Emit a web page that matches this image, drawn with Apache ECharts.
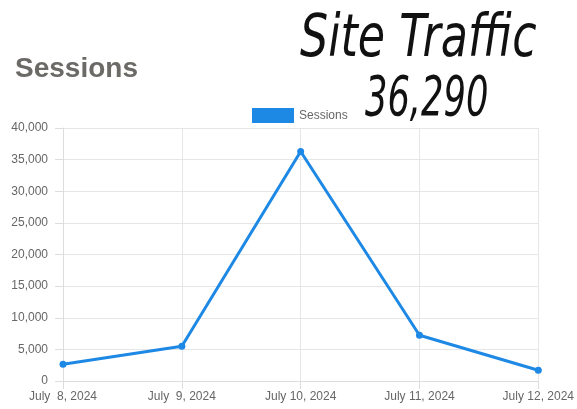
<!DOCTYPE html>
<html><head><meta charset="utf-8">
<script src="https://cdn.jsdelivr.net/npm/echarts@6/dist/echarts.min.js"></script>
<style>html,body{margin:0;padding:0;background:#fff}#c{width:577px;height:409px}</style>
</head><body><div id="c"></div>
<script>
const categories = ['July  8, 2024','July  9, 2024','July 10, 2024','July 11, 2024','July 12, 2024'];
const sessions = [2650, 5500, 36290, 7240, 1700];
const yTicks = [0, 5000, 10000, 15000, 20000, 25000, 30000, 35000, 40000];
const titleText = 'Sessions';
const headline = 'Site Traffic';
const headlineValue = '36,290';

const chart = echarts.init(document.getElementById('c'));
chart.setOption({
  animation: false,
  backgroundColor: '#fff',
  grid: {left: 63, right: 34, top: 128, bottom: 28, containLabel: false},
  title: {
    text: titleText, left: 10, top: 50,
    textStyle: {fontFamily: 'Liberation Sans, Arial', fontSize: 28, fontWeight: 'bold', color: '#6b6a66'}
  },
  legend: {
    data: ['Sessions'], left: 247, top: 103, itemWidth: 42, itemHeight: 15, itemGap: 5,
    icon: 'rect',
    textStyle: {fontFamily: 'Liberation Sans, Arial', fontSize: 12, color: '#666'}
  },
  graphic: [
    {type: 'text', x: 300, y: 12, scaleX: 0.85,
      style: {text: headline, x: 0, y: 0, verticalAlign: 'top', fontFamily: 'DejaVu Sans Condensed, DejaVu Sans', fontStyle: 'italic', fontSize: 58, fill: '#111'}},
    {type: 'text', x: 365, y: 72, scaleX: 0.7,
      style: {text: headlineValue, x: 0, y: 0, verticalAlign: 'top', fontFamily: 'DejaVu Sans Condensed, DejaVu Sans', fontStyle: 'italic', fontSize: 56, fill: '#111'}}
  ],
  xAxis: {
    type: 'category', data: categories, boundaryGap: false,
    axisLine: {show: true, lineStyle: {color: '#ddd'}},
    axisTick: {show: true, length: 8, alignWithLabel: true, lineStyle: {color: '#ddd'}},
    axisLabel: {color: '#666', fontFamily: 'Liberation Sans, Arial', fontSize: 12, margin: 10, interval: 0},
    splitLine: {show: true, lineStyle: {color: '#e6e6e6'}}
  },
  yAxis: {
    type: 'value', min: 0, max: 40000, interval: 5000,
    axisLine: {show: true, lineStyle: {color: '#ddd'}},
    axisTick: {show: true, length: 8, lineStyle: {color: '#ddd'}},
    axisLabel: {color: '#666', fontFamily: 'Liberation Sans, Arial', fontSize: 12, margin: 15,
      formatter: v => yTicks.includes(v) ? v.toLocaleString('en-US') : ''},
    splitLine: {show: true, lineStyle: {color: '#e6e6e6'}}
  },
  series: [{
    name: 'Sessions', type: 'line', data: sessions,
    symbol: 'circle', symbolSize: 7, showSymbol: true,
    lineStyle: {width: 3, color: '#1e88e5'},
    itemStyle: {color: '#1e88e5'}
  }]
});
</script></body></html>
